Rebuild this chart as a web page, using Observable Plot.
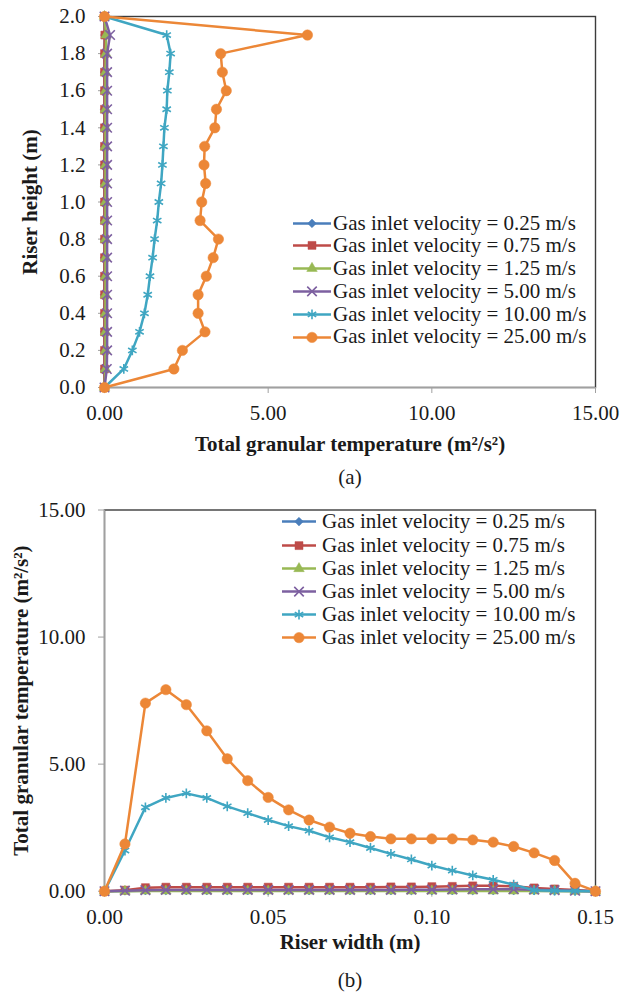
<!DOCTYPE html>
<html>
<head>
<meta charset="utf-8">
<script src="https://cdn.jsdelivr.net/npm/d3@7"></script>
<script src="https://cdn.jsdelivr.net/npm/@observablehq/plot@0.6"></script>
<style>
  body { margin: 0; background: #fff; font-family: "Liberation Serif", "DejaVu Serif", serif; }
  #wrap { position: relative; width: 632px; height: 993px; }
  #wrap svg { display: block; }
  .legend { position: absolute; font-size: 21px; color: #1a1a1a; font-family: "Liberation Serif", "DejaVu Serif", serif; }
  .legend .row { display: flex; align-items: center; white-space: nowrap; }
  .legend .row svg { flex: none; }
</style>
</head>
<body>
<div id="wrap"></div>
<script>
// Series shared by both panels
const velocityLabels = [
  "Gas inlet velocity = 0.25 m/s",
  "Gas inlet velocity = 0.75 m/s",
  "Gas inlet velocity = 1.25 m/s",
  "Gas inlet velocity = 5.00 m/s",
  "Gas inlet velocity = 10.00 m/s",
  "Gas inlet velocity = 25.00 m/s"
];
const seriesColors = ["#4a7ebb", "#be4b48", "#98b954", "#7d60a0", "#3fa6c2", "#ec8737"];
const seriesSymbols = ["diamond2", "square", "triangle", "times", "asterisk", "circle"];
const symbolRadius = [3.9, 4.5, 3.9, 4.4, 4.6, 5.2];
const strokeSymbols = new Set(["times", "asterisk"]);

// (a) granular temperature along the riser height
const riserHeight = [0.0, 0.1, 0.2, 0.3, 0.4, 0.5, 0.6, 0.7, 0.8, 0.9, 1.0,
                     1.1, 1.2, 1.3, 1.4, 1.5, 1.6, 1.7, 1.8, 1.9, 2.0];
const heightV025 = [0, 0.0, 0.0, 0.0, 0.0, 0.0, 0.0, 0.0, 0.0, 0.0, 0.0,
                    0.0, 0.0, 0.0, 0.0, 0.0, 0.0, 0.0, 0.0, 0.01, 0];
const heightV075 = [0, 0.0, 0.0, 0.0, 0.0, 0.0, 0.0, 0.0, 0.0, 0.0, 0.0,
                    0.0, 0.0, 0.0, 0.0, 0.0, 0.0, 0.0, 0.0, 0.01, 0];
const heightV125 = [0, 0.03, 0.03, 0.03, 0.03, 0.03, 0.03, 0.03, 0.03, 0.03, 0.03,
                    0.03, 0.03, 0.03, 0.03, 0.03, 0.03, 0.03, 0.04, 0.05, 0];
const heightV500 = [0, 0.07, 0.08, 0.08, 0.08, 0.08, 0.08, 0.08, 0.08, 0.08, 0.08,
                    0.08, 0.08, 0.08, 0.08, 0.08, 0.08, 0.08, 0.08, 0.17, 0];
const heightV1000 = [0, 0.59, 0.85, 1.07, 1.22, 1.32, 1.39, 1.47, 1.53, 1.61, 1.66,
                     1.73, 1.77, 1.80, 1.83, 1.90, 1.92, 1.98, 2.02, 1.90, 0];
const heightV2500 = [0, 2.12, 2.38, 3.07, 2.86, 2.86, 3.11, 3.32, 3.48, 2.92, 2.97,
                     3.09, 3.04, 3.06, 3.37, 3.42, 3.72, 3.60, 3.55, 6.20, 0];

// (b) granular temperature across the riser width
const riserWidth = [0, 0.00625, 0.0125, 0.01875, 0.025, 0.03125, 0.0375, 0.04375, 0.05,
                    0.05625, 0.0625, 0.06875, 0.075, 0.08125, 0.0875, 0.09375, 0.1,
                    0.10625, 0.1125, 0.11875, 0.125, 0.13125, 0.1375, 0.14375, 0.15];
const widthV025 = [0, 0.01, 0.02, 0.02, 0.02, 0.02, 0.02, 0.02, 0.02, 0.02, 0.02, 0.02, 0.02,
                   0.02, 0.02, 0.02, 0.02, 0.02, 0.02, 0.02, 0.02, 0.02, 0.01, 0.01, 0];
const widthV075 = [0, 0.04, 0.14, 0.16, 0.16, 0.16, 0.16, 0.16, 0.16, 0.16, 0.16, 0.16, 0.16,
                   0.16, 0.17, 0.17, 0.18, 0.19, 0.21, 0.21, 0.19, 0.13, 0.09, 0.05, 0];
const widthV125 = [0, 0.0, 0.01, 0.01, 0.01, 0.01, 0.01, 0.01, 0.01, 0.01, 0.01, 0.01, 0.01,
                   0.01, 0.01, 0.01, 0.01, 0.01, 0.01, 0.01, 0.01, 0.01, 0.01, 0.0, 0];
const widthV500 = [0, 0.02, 0.04, 0.05, 0.05, 0.05, 0.05, 0.05, 0.05, 0.05, 0.05, 0.05, 0.05,
                   0.05, 0.05, 0.06, 0.06, 0.07, 0.08, 0.08, 0.08, 0.06, 0.04, 0.02, 0];
const widthV1000 = [0, 1.60, 3.30, 3.67, 3.85, 3.67, 3.34, 3.07, 2.80, 2.56, 2.38, 2.12, 1.93,
                    1.70, 1.47, 1.25, 1.01, 0.81, 0.62, 0.45, 0.26, 0.04, 0.02, 0.01, 0];
const widthV2500 = [0, 1.86, 7.40, 7.93, 7.34, 6.31, 5.21, 4.35, 3.69, 3.20, 2.80, 2.52, 2.28,
                    2.15, 2.06, 2.06, 2.06, 2.06, 2.02, 1.93, 1.76, 1.51, 1.21, 0.31, 0];

// Axis ticks
const tempTicks = [0, 5, 10, 15];
const heightTicks = [0, 0.2, 0.4, 0.6, 0.8, 1.0, 1.2, 1.4, 1.6, 1.8, 2.0];
const widthTicks = [0, 0.05, 0.10, 0.15];

const tempTitle = "Total granular temperature (m²/s²)";
const heightTitle = "Riser height (m)";
const widthTitle = "Riser width (m)";

const FONT = "'Liberation Serif', 'DejaVu Serif', serif";
const TEXT = "#1a1a1a";
const AXIS_GRAY = "#a0a0a0";
const FRAME = "#3c3c3c";

const heightSeries = [heightV025, heightV075, heightV125, heightV500, heightV1000, heightV2500];
const widthSeries = [widthV025, widthV075, widthV125, widthV500, widthV1000, widthV2500];

// One line + marker pair per velocity, drawn in legend order
function seriesMarks(rows, xKey, yKey) {
  const marks = [];
  rows.forEach((data, i) => {
    marks.push(Plot.line(data, {x: xKey, y: yKey, stroke: seriesColors[i], strokeWidth: 2.5}));
    const sym = seriesSymbols[i];
    const isStroke = strokeSymbols.has(sym);
    marks.push(Plot.dot(data, {
      x: xKey, y: yKey, symbol: () => sym, r: symbolRadius[i],
      fill: isStroke ? "none" : seriesColors[i],
      stroke: seriesColors[i],
      strokeWidth: isStroke ? 1.6 : 0.5
    }));
  });
  return marks;
}

// Axis and panel titles placed relative to the frame
function bottomTitle(text, dy, weight) {
  return Plot.text([text], {frameAnchor: "bottom", dy, textAnchor: "middle", lineAnchor: "middle",
                            fontWeight: weight, fill: TEXT});
}
function leftTitle(text, dx) {
  return Plot.text([text], {frameAnchor: "left", dx, rotate: -90, textAnchor: "middle",
                            lineAnchor: "middle", fontWeight: "bold", fill: TEXT});
}

const wrap = document.getElementById("wrap");

// Panel (a)
const rowsA = heightSeries.map(vals => riserHeight.map((h, j) => ({h, t: vals[j]})));
const plotA = Plot.plot({
  width: 632, height: 495,
  marginLeft: 104, marginRight: 37, marginTop: 16, marginBottom: 108,
  style: {fontFamily: FONT, fontSize: "21px", color: TEXT, background: "white", overflow: "visible"},
  x: {domain: [0, 15]},
  y: {domain: [0, 2]},
  marks: [
    Plot.frame({stroke: FRAME, strokeWidth: 1.4}),
    Plot.ruleX([0], {stroke: AXIS_GRAY, strokeWidth: 1.4}),
    Plot.ruleY([0], {stroke: AXIS_GRAY, strokeWidth: 1.4}),
    Plot.axisX({ticks: tempTicks, tickFormat: d3.format(".2f"), tickSize: 6, tickPadding: 12,
                stroke: AXIS_GRAY, fill: TEXT, label: null}),
    Plot.axisY({ticks: heightTicks, tickFormat: d3.format(".1f"), tickSize: 6, tickPadding: 13,
                stroke: AXIS_GRAY, fill: TEXT, label: null}),
    bottomTitle(tempTitle, 56.5, "bold"),
    leftTitle(heightTitle, -74),
    bottomTitle("(a)", 89.5, "normal"),
    ...seriesMarks(rowsA, "t", "h")
  ]
});
wrap.appendChild(plotA);

// Panel (b)
const rowsB = widthSeries.map(vals => riserWidth.map((w, j) => ({w, t: vals[j]})));
const plotB = Plot.plot({
  width: 632, height: 498,
  marginLeft: 104, marginRight: 37, marginTop: 14.5, marginBottom: 102.3,
  style: {fontFamily: FONT, fontSize: "21px", color: TEXT, background: "white", overflow: "visible"},
  x: {domain: [0, 0.15]},
  y: {domain: [0, 15]},
  marks: [
    Plot.frame({stroke: FRAME, strokeWidth: 1.4}),
    Plot.ruleX([0], {stroke: AXIS_GRAY, strokeWidth: 1.4}),
    Plot.ruleY([0], {stroke: AXIS_GRAY, strokeWidth: 1.4}),
    Plot.axisX({ticks: widthTicks, tickFormat: d3.format(".2f"), tickSize: 6, tickPadding: 12,
                stroke: AXIS_GRAY, fill: TEXT, label: null}),
    Plot.axisY({ticks: tempTicks, tickFormat: d3.format(".2f"), tickSize: 6, tickPadding: 13,
                stroke: AXIS_GRAY, fill: TEXT, label: null}),
    bottomTitle(widthTitle, 51.5, "bold"),
    leftTitle(tempTitle, -83),
    bottomTitle("(b)", 88.8, "normal"),
    ...seriesMarks(rowsB, "w", "t")
  ]
});
wrap.appendChild(plotB);

// Legends drawn as line + marker swatches with their labels
const symbolTypes = {
  diamond2: d3.symbolDiamond2, square: d3.symbolSquare, triangle: d3.symbolTriangle,
  times: d3.symbolTimes, asterisk: d3.symbolAsterisk, circle: d3.symbolCircle
};
function addLegend(left, top, rowHeight, swatchWidth, gap) {
  const box = document.createElement("div");
  box.className = "legend";
  box.style.left = left + "px";
  box.style.top = top + "px";
  velocityLabels.forEach((label, i) => {
    const row = document.createElement("div");
    row.className = "row";
    row.style.height = rowHeight + "px";
    const svg = d3.create("svg").attr("width", swatchWidth).attr("height", rowHeight);
    const cy = rowHeight / 2;
    svg.append("line").attr("x1", 0).attr("x2", swatchWidth).attr("y1", cy).attr("y2", cy)
      .attr("stroke", seriesColors[i]).attr("stroke-width", 2.5);
    const sym = seriesSymbols[i];
    const isStroke = strokeSymbols.has(sym);
    svg.append("path")
      .attr("d", d3.symbol(symbolTypes[sym], Math.PI * symbolRadius[i] ** 2)())
      .attr("transform", `translate(${swatchWidth / 2},${cy})`)
      .attr("fill", isStroke ? "none" : seriesColors[i])
      .attr("stroke", seriesColors[i])
      .attr("stroke-width", isStroke ? 1.6 : 0.5);
    row.appendChild(svg.node());
    const span = document.createElement("span");
    span.textContent = label;
    span.style.marginLeft = gap + "px";
    row.appendChild(span);
    box.appendChild(row);
  });
  wrap.appendChild(box);
}
addLegend(293, 223 - 11.4, 22.8, 38, 2);
addLegend(282, 522 - 11.6, 23.2, 34, 6);
</script>
</body>
</html>
